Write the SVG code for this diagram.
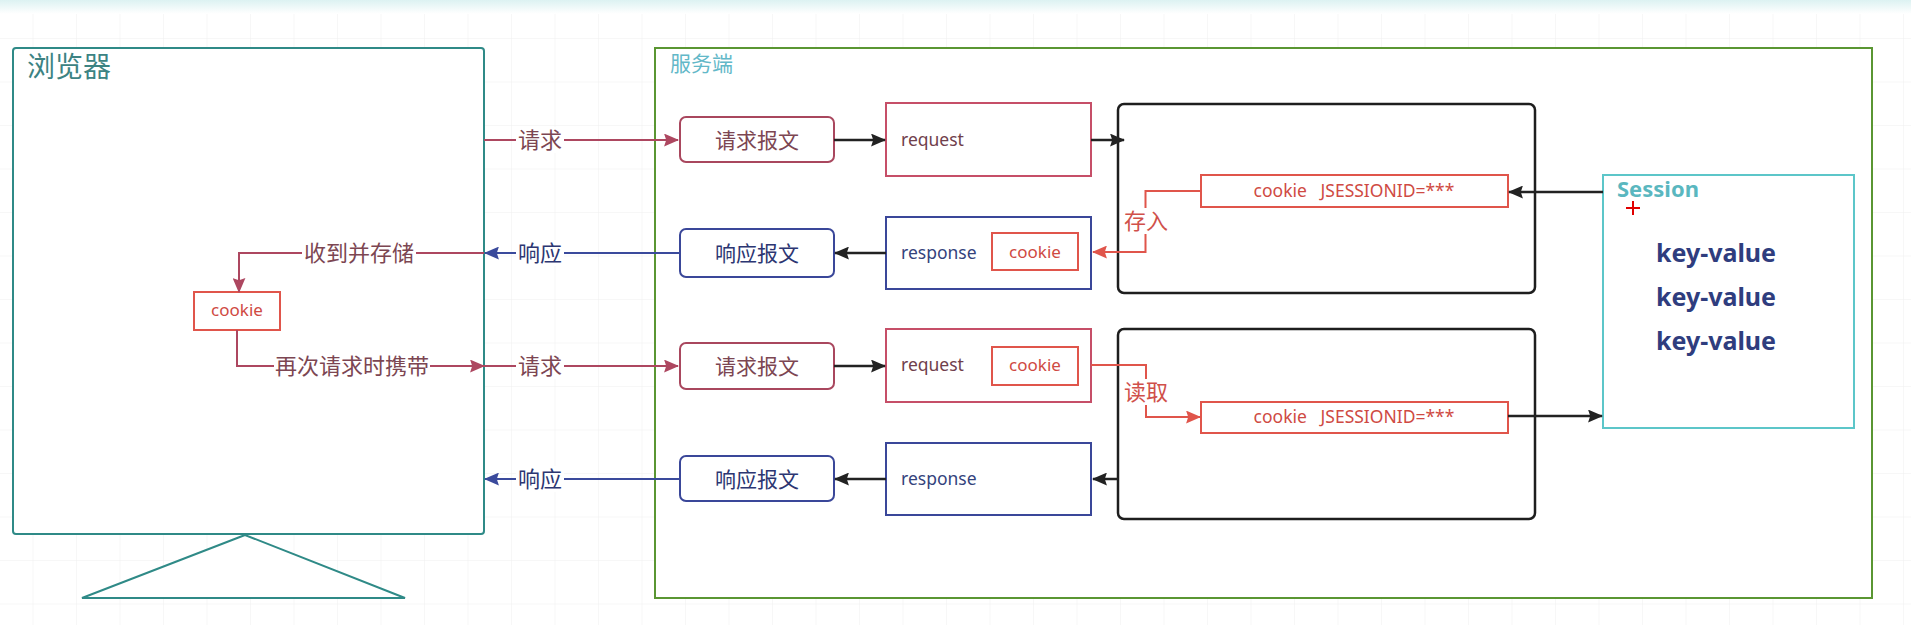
<svg xmlns="http://www.w3.org/2000/svg" width="1911" height="625" viewBox="0 0 1911 625">
<style>
text{font-family:"Noto Sans","Noto Sans CJK SC",sans-serif}
.cjk{font-family:"Noto Sans CJK SC","Noto Sans",sans-serif}
.lbl{font-size:22px;text-anchor:middle}
.req{fill:#7c4652}
.resp{fill:#2c3672}
.red{fill:#cf4a43}
.box{fill:#fff;stroke-width:2}
.reqbox{stroke:#a9475e}
.reqbox2{stroke:#c64f68}
.respbox{stroke:#3a4799}
.cookiebox{stroke:#e0554b}
.blk{fill:#fff;stroke:#1e1e1e;stroke-width:2.5}
.c-req{stroke:#ad4760;stroke-width:2;fill:none}
.c-resp{stroke:#3a4a9c;stroke-width:2;fill:none}
.c-blk{stroke:#222;stroke-width:2.5;fill:none}
.c-red{stroke:#e0554b;stroke-width:2;fill:none}
.bg{fill:#fff}
</style>
<defs>
<linearGradient id="topband" x1="0" y1="0" x2="0" y2="1">
<stop offset="0" stop-color="#dcf2f2"/>
<stop offset="1" stop-color="#ffffff"/>
</linearGradient>
<pattern id="grid" patternUnits="userSpaceOnUse" x="32.5" y="38" width="43.5" height="43.5">
<path d="M43.5 0 H0 V43.5" fill="none" stroke="#f0f0f0" stroke-width="1"/>
</pattern>
<marker id="a-req" viewBox="0 0 14 12" refX="13" refY="6" markerWidth="15" markerHeight="13" markerUnits="userSpaceOnUse" orient="auto"><path d="M0,0 L14,6 L0,12 L2,6 z" fill="#ad4760"/></marker>
<marker id="a-resp" viewBox="0 0 14 12" refX="13" refY="6" markerWidth="15" markerHeight="13" markerUnits="userSpaceOnUse" orient="auto"><path d="M0,0 L14,6 L0,12 L2,6 z" fill="#3a4a9c"/></marker>
<marker id="a-blk" viewBox="0 0 14 12" refX="13" refY="6" markerWidth="15" markerHeight="13" markerUnits="userSpaceOnUse" orient="auto"><path d="M0,0 L14,6 L0,12 L2,6 z" fill="#222"/></marker>
<marker id="a-red" viewBox="0 0 14 12" refX="13" refY="6" markerWidth="15" markerHeight="13" markerUnits="userSpaceOnUse" orient="auto"><path d="M0,0 L14,6 L0,12 L2,6 z" fill="#e0554b"/></marker>
</defs>

<rect x="0" y="0" width="1911" height="625" fill="#fff"/>
<rect x="0" y="0" width="1911" height="625" fill="url(#grid)"/>
<rect x="0" y="0" width="1911" height="14" fill="url(#topband)"/>

<g id="browser">
<rect x="13" y="48" width="471" height="486" rx="3" fill="#fff" stroke="#2f8a87" stroke-width="2"/>
<text class="cjk" x="27" y="77" font-size="28" fill="#3c8383">浏览器</text>
</g>
<g id="browser-stand">
<polygon points="245,535 82,598 405,598" fill="#fff" stroke="#2f8a87" stroke-width="2"/>
</g>

<g id="server">
<rect x="655" y="48" width="1217" height="550" fill="#fff" stroke="#5a9632" stroke-width="2"/>
<text class="cjk" x="670" y="71" font-size="21" fill="#62b8c8">服务端</text>
</g>

<g id="browser-cookie">
<rect class="box cookiebox" x="194" y="292" width="86" height="38"/>
<text class="red" x="237" y="316" font-size="17" text-anchor="middle">cookie</text>
</g>

<g id="req-msg-1">
<rect class="box reqbox" x="680" y="117" width="154" height="45" rx="6"/>
<text class="cjk req" x="757" y="148" font-size="21" text-anchor="middle">请求报文</text>
</g>
<g id="request-1">
<rect class="box reqbox2" x="886" y="103" width="205" height="73"/>
<text x="901" y="146" font-size="17.5" fill="#70404c">request</text>
</g>
<g id="resp-msg-1">
<rect class="box respbox" x="680" y="229" width="154" height="48" rx="6"/>
<text class="cjk resp" x="757" y="261" font-size="21" text-anchor="middle">响应报文</text>
</g>
<g id="response-1">
<rect class="box respbox" x="886" y="217" width="205" height="72"/>
<text x="901" y="259" font-size="17.5" fill="#34437c">response</text>
<rect class="box cookiebox" x="992" y="233" width="86" height="37"/>
<text class="red" x="1035" y="258" font-size="17" text-anchor="middle">cookie</text>
</g>
<g id="server-block-1">
<rect class="blk" x="1118" y="104" width="417" height="189" rx="6"/>
</g>
<g id="jsession-1">
<rect class="box cookiebox" x="1201" y="175" width="307" height="32" fill="#fffafa"/>
<text class="red" x="1354" y="197" font-size="17.5" text-anchor="middle" xml:space="preserve">cookie   JSESSIONID=***</text>
</g>

<g id="req-msg-2">
<rect class="box reqbox" x="680" y="343" width="154" height="46" rx="6"/>
<text class="cjk req" x="757" y="374" font-size="21" text-anchor="middle">请求报文</text>
</g>
<g id="request-2">
<rect class="box reqbox2" x="886" y="329" width="205" height="73"/>
<text x="901" y="371" font-size="17.5" fill="#70404c">request</text>
<rect class="box cookiebox" x="992" y="347" width="86" height="38"/>
<text class="red" x="1035" y="371" font-size="17" text-anchor="middle">cookie</text>
</g>
<g id="resp-msg-2">
<rect class="box respbox" x="680" y="456" width="154" height="45" rx="6"/>
<text class="cjk resp" x="757" y="487" font-size="21" text-anchor="middle">响应报文</text>
</g>
<g id="response-2">
<rect class="box respbox" x="886" y="443" width="205" height="72"/>
<text x="901" y="485" font-size="17.5" fill="#34437c">response</text>
</g>
<g id="server-block-2">
<rect class="blk" x="1118" y="329" width="417" height="190" rx="6"/>
</g>
<g id="jsession-2">
<rect class="box cookiebox" x="1201" y="402" width="307" height="31" fill="#fffafa"/>
<text class="red" x="1354" y="423" font-size="17.5" text-anchor="middle" xml:space="preserve">cookie   JSESSIONID=***</text>
</g>

<g id="session">
<rect x="1603" y="175" width="251" height="253" fill="#fff" stroke="#5cc6c9" stroke-width="2"/>
<text x="1617" y="197" font-size="22" font-weight="bold" fill="#5ab7bf">Session</text>
<text x="1716" y="262" font-size="25" font-weight="bold" fill="#2f3d7e" text-anchor="middle">key-value</text>
<text x="1716" y="306" font-size="25" font-weight="bold" fill="#2f3d7e" text-anchor="middle">key-value</text>
<text x="1716" y="350" font-size="25" font-weight="bold" fill="#2f3d7e" text-anchor="middle">key-value</text>
<path d="M1626 208 H1640 M1633 201 V215" stroke="#e00000" stroke-width="2"/>
</g>

<g id="connectors">
<path class="c-req" d="M484 140 H678" marker-end="url(#a-req)"/>
<rect class="bg" x="516" y="127" width="48" height="26"/>
<text class="cjk lbl req" x="540" y="148">请求</text>

<path class="c-resp" d="M680 253 H485" marker-end="url(#a-resp)"/>
<rect class="bg" x="516" y="240" width="48" height="26"/>
<text class="cjk lbl resp" x="540" y="261">响应</text>

<path class="c-req" d="M484 253 H239 V292" marker-end="url(#a-req)"/>
<rect class="bg" x="302" y="240" width="114" height="26"/>
<text class="cjk lbl req" x="359" y="261">收到并存储</text>

<path class="c-req" d="M237 330 V366 H484" marker-end="url(#a-req)"/>
<rect class="bg" x="274" y="353" width="156" height="26"/>
<text class="cjk lbl req" x="352" y="374">再次请求时携带</text>

<path class="c-req" d="M484 366 H678" marker-end="url(#a-req)"/>
<rect class="bg" x="516" y="353" width="48" height="26"/>
<text class="cjk lbl req" x="540" y="374">请求</text>

<path class="c-resp" d="M680 479 H485" marker-end="url(#a-resp)"/>
<rect class="bg" x="516" y="466" width="48" height="26"/>
<text class="cjk lbl resp" x="540" y="487">响应</text>

<path class="c-blk" d="M834 140 H885" marker-end="url(#a-blk)"/>
<path class="c-blk" d="M1091 140 H1124" marker-end="url(#a-blk)"/>
<path class="c-blk" d="M886 253 H835" marker-end="url(#a-blk)"/>
<path class="c-blk" d="M1603 192 H1509" marker-end="url(#a-blk)"/>
<path class="c-blk" d="M834 366 H885" marker-end="url(#a-blk)"/>
<path class="c-blk" d="M1508 416 H1602" marker-end="url(#a-blk)"/>
<path class="c-blk" d="M1118 479 H1093" marker-end="url(#a-blk)"/>
<path class="c-blk" d="M886 479 H835" marker-end="url(#a-blk)"/>

<path class="c-red" d="M1201 191 H1145.5 V252 H1093" marker-end="url(#a-red)"/>
<rect class="bg" x="1122" y="208" width="48" height="26"/>
<text class="cjk lbl" x="1146" y="229" fill="#d0504a">存入</text>

<path class="c-red" d="M1091 365 H1146 V417 H1200" marker-end="url(#a-red)"/>
<rect class="bg" x="1122" y="379" width="48" height="26"/>
<text class="cjk lbl" x="1146" y="400" fill="#d0504a">读取</text>
</g>
</svg>
